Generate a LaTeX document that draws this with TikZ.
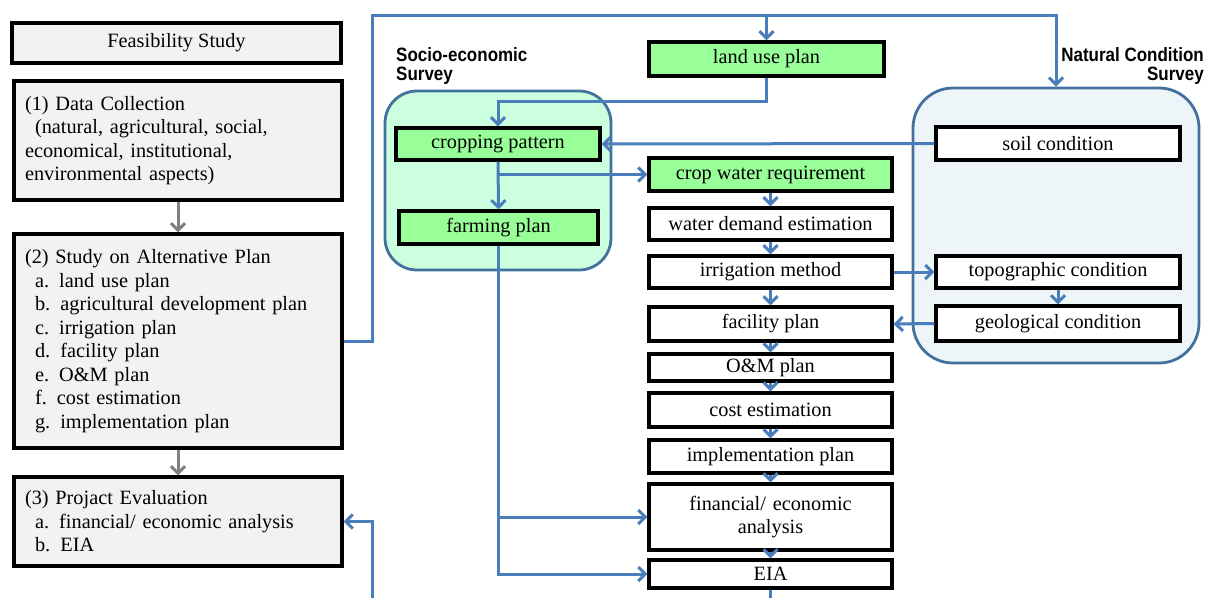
\documentclass[tikz,border=0pt]{standalone}
\usepackage{fontspec}
\setmainfont{Liberation Serif}
\newfontfamily\headfont[FakeStretch=0.88]{Liberation Sans}
\usetikzlibrary{arrows.meta}
\definecolor{boxgray}{HTML}{F2F2F2}
\definecolor{planGreen}{HTML}{99FF99}
\definecolor{socioFill}{HTML}{CCFFDD}
\definecolor{natFill}{HTML}{EDF5F9}
\definecolor{frameBlue}{HTML}{41719C}
\definecolor{flowBlue}{HTML}{4A7EBB}
\definecolor{flowGray}{HTML}{808080}
\tikzset{
  base/.style={draw=black, line width=3.3pt, inner sep=0pt, font=\fontsize{20.3}{23.5}\selectfont},
  leftbox/.style={base, fill=boxgray, align=left, inner xsep=11pt, text width=306pt, minimum width=328pt},
  chainbox/.style={base, fill=white, minimum width=243pt, align=center},
  greenbox/.style={base, fill=planGreen},
  whitebox/.style={base, fill=white},
  group/.style={draw=frameBlue, line width=2.8pt, rounded corners=#1, inner sep=0pt},
  head/.style={font=\headfont\bfseries\fontsize{19.3}{19}\selectfont, inner sep=0pt},
  flow/.style={draw=flowBlue, line width=3pt},
  arr/.style={flow, -{Straight Barb[length=7pt,width=14pt]}},
  grayarr/.style={draw=flowGray, line width=3pt, -{Straight Barb[length=7pt,width=14pt]}},
}
\begin{document}
\begin{tikzpicture}[x=1pt,y=-1pt]
\useasboundingbox (0,0) rectangle (1206,598);

% survey containers
\node[group=32pt, fill=socioFill, minimum width=226pt, minimum height=179pt] (socio) at (498,180.5) {};
\node[group=40pt, fill=natFill, minimum width=286pt, minimum height=275pt] (natural) at (1056,225.5) {};
\node[head, anchor=north west, align=left] (sociolabel) at (396,47) {Socio-economic\\Survey};
\node[head, anchor=north east, align=right] (naturallabel) at (1204,47) {Natural Condition\\Survey};

% left column: study stages
\node[base, fill=boxgray, minimum width=329pt, minimum height=40pt] (fs) at (176.5,43) {Feasibility Study};
\node[leftbox, minimum height=119pt] (dc) at (178,140.5) {(1) Data Collection\\\hspace*{10pt}(natural, agricultural, social,\\economical, institutional,\\environmental aspects)};
\node[leftbox, minimum height=214pt] (sa) at (178,341) {(2) Study on Alternative Plan\\\hspace*{10pt}a. land use plan\\\hspace*{10pt}b. agricultural development plan\\\hspace*{10pt}c. irrigation plan\\\hspace*{10pt}d. facility plan\\\hspace*{10pt}e. O\&M plan\\\hspace*{10pt}f. cost estimation\\\hspace*{10pt}g. implementation plan};
\node[leftbox, minimum height=89pt] (pe) at (178,521.5) {(3) Projact Evaluation\\\hspace*{10pt}a. financial/ economic analysis\\\hspace*{10pt}b. EIA};

% socio-economic items
\node[greenbox, minimum width=235pt, minimum height=34pt] (lu) at (766.5,59) {land use plan};
\node[greenbox, minimum width=204pt, minimum height=32pt] (cp) at (498,144) {cropping pattern};
\node[greenbox, minimum width=199pt, minimum height=33pt] (fp) at (498.5,227.5) {farming plan};

% planning chain
\node[chainbox, fill=planGreen, minimum height=33pt] (cw) at (770.5,174.5) {crop water requirement};
\node[chainbox, minimum height=32pt] (wd) at (770.5,224) {water demand estimation};
\node[chainbox, minimum height=32pt] (im) at (770.5,272) {irrigation method};
\node[chainbox, minimum height=34pt] (fac) at (770.5,324) {facility plan};
\node[chainbox, minimum height=27pt] (om) at (770.5,367.5) {O\&M plan};
\node[chainbox, minimum height=34pt] (ce) at (770.5,410) {cost estimation};
\node[chainbox, minimum height=33pt] (ip) at (770.5,456.5) {implementation plan};
\node[chainbox, minimum height=66pt, text width=230pt] (fin) at (770.5,517) {financial/ economic\\analysis};
\node[chainbox, minimum height=28pt] (eia) at (770.5,574) {EIA};

% natural condition items
\node[whitebox, minimum width=244pt, minimum height=33pt] (soil) at (1058,143.5) {soil condition};
\node[whitebox, minimum width=244pt, minimum height=32pt] (topo) at (1058,272) {topographic condition};
\node[whitebox, minimum width=244pt, minimum height=35pt] (geo) at (1058,323.5) {geological condition};

% stage sequence
\draw[grayarr] (dc) -- (sa);
\draw[grayarr] (sa) -- (pe);

% feedback from the alternative plan study
\coordinate (topL) at (372,15);
\draw[arr] (sa.east) -| (topL) -| (natural.north);
\draw[arr] (lu.north |- topL) -- (lu.north);
\draw[arr] (lu.south) -- ++(0,24) -| (cp.north);
\draw[arr] (cp.south) -- (fp.north);
\draw[arr] (cp.south |- cw.west) -- (cw.west);
\draw[arr] (soil.west) -- (cp.east);

% chain links
\draw[arr] (cw) -- (wd);
\draw[arr] (wd) -- (im);
\draw[arr] (im) -- (fac);
\draw[arr] (fac) -- (om);
\draw[arr] (om) -- (ce);
\draw[arr] (ce) -- (ip);
\draw[arr] (ip) -- (fin);
\draw[arr] (fin) -- (eia);
\coordinate (eiaout) at (770.5,598);
\draw[flow] (eia.south) -- (eiaout);

\draw[arr] (im.east) -- (topo.west);
\draw[arr] (topo) -- (geo);
\draw[arr] (geo.west) -- (fac.east);

% farming plan to evaluation items
\draw[arr] (fp.south) |- (eia.west);
\draw[arr] (fp.south |- fin.west) -- (fin.west);

% return into project evaluation
\coordinate (bot) at (372,598);
\draw[arr] (bot) |- (pe.east);
\end{tikzpicture}
\end{document}
